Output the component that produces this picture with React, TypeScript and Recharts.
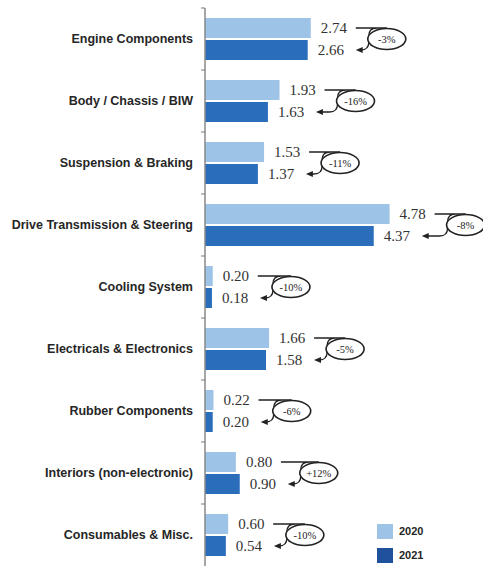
import { Bar, BarChart, LabelList, XAxis, YAxis } from "recharts";

const categories = [
  "Engine Components",
  "Body / Chassis / BIW",
  "Suspension & Braking",
  "Drive Transmission & Steering",
  "Cooling System",
  "Electricals & Electronics",
  "Rubber Components",
  "Interiors (non-electronic)",
  "Consumables & Misc.",
];
const values2020 = [2.74, 1.93, 1.53, 4.78, 0.2, 1.66, 0.22, 0.8, 0.6];
const values2021 = [2.66, 1.63, 1.37, 4.37, 0.18, 1.58, 0.2, 0.9, 0.54];
const changeLabels = ["-3%", "-16%", "-11%", "-8%", "-10%", "-5%", "-6%", "+12%", "-10%"];
const seriesNames = ["2020", "2021"];

const W = 483;
const H = 566;
const TOP = 8;
const BAR = 20;
const GAP = 2;
const LIGHT = "#9dc3e6";
const DARK = "#2a6dbb";
const SERIF = "'Liberation Serif', 'DejaVu Serif', serif";
const SANS = "'Liberation Sans', Arial, sans-serif";

const data = categories.map((name, i) => ({
  name,
  v2020: values2020[i],
  v2021: values2021[i],
  change: changeLabels[i],
}));

const band = (H - TOP) / categories.length;

function CategoryTick(props: any) {
  const { x, y, payload } = props;
  return (
    <g>
      <text x={x} y={y} dy={4} textAnchor="end" fontFamily={SANS} fontWeight="bold" fontSize={12.5} fill="#262626">
        {payload.value}
      </text>
      <line x1={x + 8} x2={x + 12} y1={y - band / 2} y2={y - band / 2} stroke="#777" strokeWidth={1} />
    </g>
  );
}

// bracket + arrow + ellipse with the % change, placed from the bar geometry
function Change(props: any) {
  const { x, y, width, height, index } = props;
  const d = data[index];
  const scale = width / d.v2021;
  const end2021 = x + width;
  const end2020 = x + d.v2020 * scale;
  const yt = y - GAP - BAR / 2;
  const yb = y + height / 2;
  const ym = (yt + yb) / 2;
  const topStart = end2020 + 45;
  const tip = end2021 + 48;
  const cx = Math.max(topStart, tip) + 31;
  const vx = cx - 18;
  return (
    <g>
      <path
        d={`M${topStart},${yt} H${cx} M${vx + 8},${yt} Q${vx},${yt} ${vx},${yt + 8} V${yb - 8} Q${vx},${yb} ${vx - 8},${yb} H${tip + 5}`}
        fill="none"
        stroke="#222"
        strokeWidth={1.3}
      />
      <path d={`M${tip},${yb} L${tip + 7},${yb - 3} L${tip + 7},${yb + 3} Z`} fill="#222" />
      <ellipse cx={cx} cy={ym} rx={19} ry={10.5} fill="#fff" stroke="#222" strokeWidth={1.6} />
      <text x={cx} y={ym} dy={3.5} textAnchor="middle" fontFamily={SERIF} fontSize={10.5} fill="#222">
        {d.change}
      </text>
    </g>
  );
}

function LegendBox() {
  return (
    <div
      style={{
        position: "absolute",
        left: 377,
        top: 519,
        fontFamily: SANS,
        fontWeight: "bold",
        fontSize: 11,
        color: "#262626",
      }}
    >
      {seriesNames.map((s, i) => (
        <div key={s} style={{ display: "flex", alignItems: "center", height: 24 }}>
          <span style={{ display: "inline-block", width: 16, height: 15, background: i === 0 ? LIGHT : "#1f519c", marginRight: 6 }} />
          {s}
        </div>
      ))}
    </div>
  );
}

export default function App() {
  return (
    <div style={{ position: "absolute", left: 0, top: 0, width: W, height: H, background: "#fff" }}>
      <BarChart
        width={W}
        height={H}
        data={data}
        layout="vertical"
        margin={{ top: TOP, right: 0, bottom: 0, left: 0 }}
        barSize={BAR}
        barGap={GAP}
      >
        <XAxis type="number" domain={[0, 7.2]} allowDataOverflow hide />
        <YAxis
          type="category"
          dataKey="name"
          width={205}
          tick={<CategoryTick />}
          tickLine={false}
          tickMargin={12}
          tickSize={0}
          axisLine={{ stroke: "#888", strokeWidth: 1.5 }}
          interval={0}
        />
        <Bar dataKey="v2020" name="2020" fill={LIGHT} isAnimationActive={false}>
          <LabelList
            dataKey="v2020"
            position="right"
            offset={10}
            formatter={(v: any) => Number(v).toFixed(2)}
            style={{ fontFamily: SERIF, fontSize: 15, fill: "#333" }}
          />
        </Bar>
        <Bar dataKey="v2021" name="2021" fill={DARK} isAnimationActive={false}>
          <LabelList
            dataKey="v2021"
            position="right"
            offset={10}
            formatter={(v: any) => Number(v).toFixed(2)}
            style={{ fontFamily: SERIF, fontSize: 15, fill: "#333" }}
          />
          <LabelList dataKey="v2021" content={<Change />} />
        </Bar>
      </BarChart>
      <LegendBox />
    </div>
  );
}
